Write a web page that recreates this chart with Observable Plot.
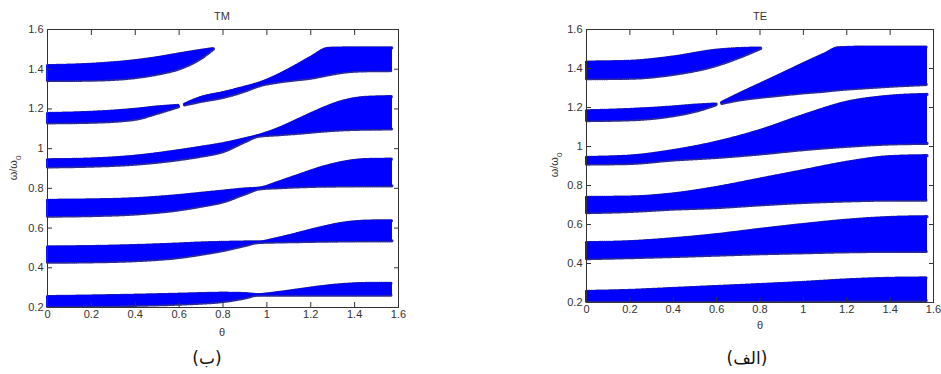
<!DOCTYPE html>
<html><head><meta charset="utf-8">
<script src="https://cdn.jsdelivr.net/npm/d3@7"></script>
<script src="https://cdn.jsdelivr.net/npm/@observablehq/plot@0.6"></script>
<style>
body{margin:0;background:#fff;}
#wrap{position:relative;width:941px;height:374px;font-family:"Liberation Sans",Arial,sans-serif;overflow:hidden;}
.pl{position:absolute;top:0;}
.t{position:absolute;font-size:11px;color:#333;transform:translate(-50%,-50%);white-space:nowrap;}
.cap{position:absolute;font-family:"DejaVu Sans",sans-serif;font-size:17px;color:#111;transform:translate(-50%,-50%);white-space:nowrap;}
.yl{position:absolute;font-size:11px;color:#333;transform:translate(-50%,-50%) rotate(-90deg);white-space:nowrap;}
.yl sub{font-size:8px;}
</style></head><body>
<div id="wrap">
  <div id="left" class="pl" style="left:0"></div>
  <div id="right" class="pl" style="left:470px"></div>
  <div class="t" style="left:222px;top:16px">TM</div>
  <div class="t" style="left:760px;top:16px">TE</div>
  <div class="t" style="left:222px;top:332px">θ</div>
  <div class="t" style="left:760px;top:325px">θ</div>
  <div class="yl" style="left:15px;top:168px">ω/ω<sub>0</sub></div>
  <div class="yl" style="left:556px;top:165px">ω/ω<sub>0</sub></div>
  <div class="cap" style="left:207px;top:358px">(ب)</div>
  <div class="cap" style="left:747px;top:358px">(الف)</div>
</div>
<script>
// ticks
const xTicks = [0, 0.2, 0.4, 0.6, 0.8, 1, 1.2, 1.4, 1.6];
const xTickLabels = ["0", "0.2", "0.4", "0.6", "0.8", "1", "1.2", "1.4", "1.6"];
const yTicks = [0.2, 0.4, 0.6, 0.8, 1, 1.2, 1.4, 1.6];
const yTickLabels = ["0.2", "0.4", "0.6", "0.8", "1", "1.2", "1.4", "1.6"];

// ---- TM panel (ب) ----
const tmB1Theta = [0, 0.2, 0.4, 0.6, 0.7, 0.8, 0.9, 0.96, 1.05, 1.15, 1.25, 1.35, 1.45, 1.57];
const tmB1Lo    = [0.205, 0.207, 0.211, 0.217, 0.222, 0.230, 0.248, 0.262, 0.262, 0.262, 0.262, 0.262, 0.262, 0.262];
const tmB1Hi    = [0.255, 0.258, 0.262, 0.267, 0.270, 0.272, 0.270, 0.265, 0.275, 0.290, 0.305, 0.316, 0.321, 0.322];

const tmB2Theta = [0, 0.2, 0.4, 0.6, 0.7, 0.8, 0.9, 0.96, 1.05, 1.15, 1.25, 1.35, 1.45, 1.57];
const tmB2Lo    = [0.428, 0.430, 0.436, 0.452, 0.468, 0.487, 0.512, 0.527, 0.530, 0.532, 0.534, 0.535, 0.536, 0.536];
const tmB2Hi    = [0.505, 0.507, 0.512, 0.520, 0.525, 0.528, 0.530, 0.530, 0.548, 0.575, 0.603, 0.625, 0.635, 0.637];

const tmB3Theta = [0, 0.2, 0.4, 0.6, 0.7, 0.8, 0.9, 0.97, 1.05, 1.15, 1.25, 1.35, 1.45, 1.57];
const tmB3Lo    = [0.660, 0.663, 0.671, 0.692, 0.710, 0.732, 0.772, 0.798, 0.803, 0.808, 0.811, 0.812, 0.813, 0.813];
const tmB3Hi    = [0.740, 0.742, 0.748, 0.764, 0.775, 0.786, 0.797, 0.802, 0.830, 0.868, 0.905, 0.932, 0.945, 0.947];

const tmB4Theta = [0, 0.2, 0.4, 0.6, 0.7, 0.8, 0.9, 0.96, 1.05, 1.15, 1.25, 1.35, 1.45, 1.57];
const tmB4Lo    = [0.908, 0.912, 0.922, 0.945, 0.962, 0.985, 1.035, 1.062, 1.070, 1.078, 1.088, 1.095, 1.098, 1.099];
const tmB4Hi    = [0.944, 0.948, 0.962, 0.990, 1.007, 1.025, 1.050, 1.066, 1.100, 1.150, 1.200, 1.240, 1.258, 1.262];

const tmB5aTheta = [0, 0.2, 0.4, 0.5, 0.6];
const tmB5aLo    = [1.130, 1.133, 1.148, 1.178, 1.212];
const tmB5aHi    = [1.177, 1.183, 1.198, 1.210, 1.218];

const tmB5bTheta = [0.625, 0.7, 0.8, 0.9, 0.97, 1.05, 1.12, 1.2, 1.28, 1.35, 1.45, 1.57];
const tmB5bLo    = [1.220, 1.238, 1.258, 1.290, 1.318, 1.335, 1.345, 1.355, 1.372, 1.385, 1.392, 1.393];
const tmB5bHi    = [1.224, 1.258, 1.282, 1.310, 1.332, 1.370, 1.410, 1.460, 1.505, 1.507, 1.507, 1.507];

const tmB6Theta = [0, 0.2, 0.4, 0.5, 0.6, 0.7, 0.757];
const tmB6Lo    = [1.343, 1.345, 1.358, 1.375, 1.402, 1.455, 1.502];
const tmB6Hi    = [1.418, 1.425, 1.443, 1.458, 1.477, 1.495, 1.504];

// ---- TE panel (الف) ----
const teB1Theta = [0, 0.2, 0.4, 0.6, 0.8, 1.0, 1.2, 1.4, 1.57];
const teB1Lo    = [0.207, 0.207, 0.207, 0.207, 0.208, 0.209, 0.210, 0.210, 0.210];
const teB1Hi    = [0.257, 0.262, 0.272, 0.282, 0.292, 0.303, 0.316, 0.324, 0.326];

const teB2Theta = [0, 0.2, 0.4, 0.6, 0.8, 1.0, 1.2, 1.4, 1.57];
const teB2Lo    = [0.425, 0.430, 0.436, 0.443, 0.450, 0.455, 0.460, 0.462, 0.462];
const teB2Hi    = [0.507, 0.512, 0.527, 0.548, 0.575, 0.600, 0.622, 0.636, 0.640];

const teB3Theta = [0, 0.2, 0.4, 0.6, 0.8, 1.0, 1.2, 1.4, 1.57];
const teB3Lo    = [0.661, 0.667, 0.679, 0.687, 0.701, 0.713, 0.721, 0.725, 0.725];
const teB3Hi    = [0.739, 0.741, 0.757, 0.790, 0.833, 0.876, 0.919, 0.948, 0.953];

const teB4Theta = [0, 0.2, 0.4, 0.6, 0.8, 1.0, 1.2, 1.4, 1.57];
const teB4Lo    = [0.910, 0.913, 0.931, 0.944, 0.962, 0.984, 1.001, 1.013, 1.016];
const teB4Hi    = [0.944, 0.951, 0.979, 1.022, 1.082, 1.159, 1.227, 1.258, 1.267];

const teB5aTheta = [0, 0.2, 0.4, 0.5, 0.598];
const teB5aLo    = [1.133, 1.137, 1.158, 1.180, 1.214];
const teB5aHi    = [1.183, 1.190, 1.203, 1.212, 1.218];

const teB5bTheta = [0.624, 0.7, 0.8, 0.9, 1.0, 1.1, 1.16, 1.3, 1.45, 1.57];
const teB5bLo    = [1.221, 1.238, 1.252, 1.264, 1.275, 1.284, 1.291, 1.302, 1.312, 1.318];
const teB5bHi    = [1.226, 1.268, 1.320, 1.372, 1.425, 1.476, 1.506, 1.510, 1.510, 1.510];

const teB6Theta = [0, 0.2, 0.4, 0.6, 0.7, 0.803];
const teB6Lo    = [1.348, 1.350, 1.370, 1.416, 1.455, 1.503];
const teB6Hi    = [1.433, 1.437, 1.459, 1.494, 1.502, 1.505];

const tmBands = [
  [tmB1Theta, tmB1Lo, tmB1Hi], [tmB2Theta, tmB2Lo, tmB2Hi], [tmB3Theta, tmB3Lo, tmB3Hi],
  [tmB4Theta, tmB4Lo, tmB4Hi], [tmB5aTheta, tmB5aLo, tmB5aHi], [tmB5bTheta, tmB5bLo, tmB5bHi],
  [tmB6Theta, tmB6Lo, tmB6Hi]
];
const teBands = [
  [teB1Theta, teB1Lo, teB1Hi], [teB2Theta, teB2Lo, teB2Hi], [teB3Theta, teB3Lo, teB3Hi],
  [teB4Theta, teB4Lo, teB4Hi], [teB5aTheta, teB5aLo, teB5aHi], [teB5bTheta, teB5bLo, teB5bHi],
  [teB6Theta, teB6Lo, teB6Hi]
];

const FILL = "#0000ff";
const EDGE = "#2c2c96";

function bandMarks(bands) {
  return bands.flatMap(([th, lo, hi]) => {
    const rows = th.map((t, i) => ({theta: t, lo: lo[i], hi: hi[i]}));
    const edge = {stroke: EDGE, strokeWidth: 3.2, strokeDasharray: "0.9 1.3", curve: "monotone-x"};
    return [
      Plot.areaY(rows, {x: "theta", y1: "lo", y2: "hi", fill: FILL, curve: "monotone-x"}),
      Plot.line(rows, {x: "theta", y: "lo", ...edge}),
      Plot.line(rows, {x: "theta", y: "hi", ...edge}),
      Plot.areaY(rows, {x: "theta", y1: "lo", y2: "hi", fill: FILL, curve: "monotone-x", stroke: FILL, strokeWidth: 1})
    ];
  });
}

function panel(bands, m) {
  return Plot.plot({
    width: m.width, height: m.height,
    marginLeft: m.left, marginRight: m.right, marginTop: m.top, marginBottom: m.bottom,
    x: {domain: [0, 1.6]},
    y: {domain: [0.2, 1.6]},
    style: {fontFamily: "'Liberation Sans', Arial, sans-serif", fontSize: "11px", color: "#333", background: "transparent", overflow: "visible"},
    marks: [
      ...bandMarks(bands),
      Plot.frame({stroke: "#333"}),
      Plot.axisX(xTicks, {anchor: "bottom", tickSize: -5, tickPadding: 8, label: null, stroke: "#333", fontSize: 11,
        tickFormat: d => xTickLabels[xTicks.indexOf(d)]}),
      Plot.axisX(xTicks, {anchor: "top", tickSize: -5, label: null, stroke: "#333", tickFormat: () => ""}),
      Plot.axisY(yTicks, {anchor: "left", tickSize: -5, tickPadding: 9, label: null, stroke: "#333", fontSize: 11,
        tickFormat: d => yTickLabels[yTicks.indexOf(d)]}),
      Plot.axisY(yTicks, {anchor: "right", tickSize: -5, label: null, stroke: "#333", tickFormat: () => ""})
    ]
  });
}

document.getElementById("left").append(panel(tmBands, {width: 470, height: 345, left: 47, right: 72, top: 29, bottom: 38}));
document.getElementById("right").append(panel(teBands, {width: 471, height: 345, left: 116, right: 8, top: 29, bottom: 43}));
</script>
</body></html>
